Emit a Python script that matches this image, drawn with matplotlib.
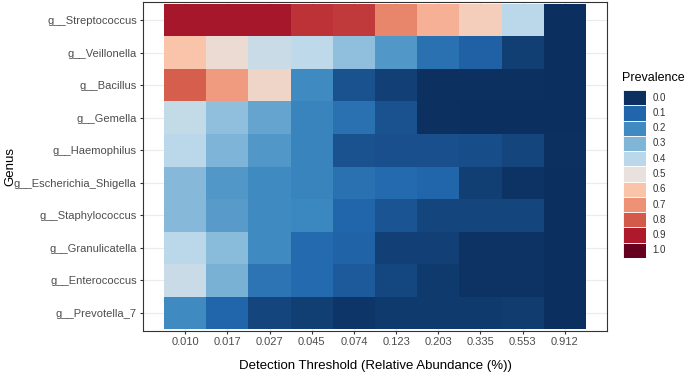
import numpy as np
import matplotlib
matplotlib.use("Agg")
import matplotlib.pyplot as plt
from matplotlib.colors import LinearSegmentedColormap

plt.rcParams['font.family'] = ['Liberation Sans', 'DejaVu Sans']

genera = ["g__Streptococcus", "g__Veillonella", "g__Bacillus", "g__Gemella",
          "g__Haemophilus", "g__Escherichia_Shigella", "g__Staphylococcus",
          "g__Granulicatella", "g__Enterococcus", "g__Prevotella_7"]
thresholds = ["0.010", "0.017", "0.027", "0.045", "0.074",
              "0.123", "0.203", "0.335", "0.553", "0.912"]

# prevalence per genus (rows) and detection threshold (columns)
prevalence = np.array([
    [0.91, 0.91, 0.91, 0.86, 0.85, 0.72, 0.64, 0.57, 0.40, 0.00],
    [0.60, 0.52, 0.43, 0.41, 0.33, 0.23, 0.13, 0.09, 0.03, 0.00],
    [0.79, 0.68, 0.54, 0.20, 0.065, 0.035, 0.005, 0.005, 0.005, 0.00],
    [0.42, 0.33, 0.26, 0.18, 0.13, 0.065, 0.005, 0.00, 0.00, 0.00],
    [0.40, 0.30, 0.23, 0.18, 0.065, 0.06, 0.06, 0.055, 0.04, 0.005],
    [0.31, 0.23, 0.20, 0.18, 0.13, 0.11, 0.10, 0.03, 0.01, 0.00],
    [0.31, 0.24, 0.20, 0.19, 0.10, 0.07, 0.04, 0.04, 0.04, 0.00],
    [0.40, 0.32, 0.20, 0.11, 0.095, 0.035, 0.035, 0.01, 0.01, 0.00],
    [0.43, 0.29, 0.14, 0.11, 0.08, 0.045, 0.02, 0.01, 0.01, 0.00],
    [0.20, 0.10, 0.04, 0.03, 0.015, 0.02, 0.02, 0.02, 0.025, 0.00],
])

legend_values = ["0.0", "0.1", "0.2", "0.3", "0.4", "0.5",
                 "0.6", "0.7", "0.8", "0.9", "1.0"]
legend_colors = ["#0B2F5E", "#2166AC", "#3F8BC1", "#7FB5D7", "#BAD8EA", "#E8E1DD",
                 "#FAC4AB", "#EE9275", "#D35A4A", "#AE1A2C", "#67001F"]

cmap = LinearSegmentedColormap.from_list("prev", legend_colors)

fig = plt.figure(figsize=(6.85, 3.74), dpi=100)
ax = fig.add_axes([143 / 685, 1 - 331 / 374, 464 / 685, 329 / 374])

nr, nc = prevalence.shape
xe = np.arange(nc + 1) - 0.5
ye = np.arange(nr + 1) - 0.5
ax.pcolormesh(xe, ye, prevalence, cmap=cmap, vmin=0, vmax=1, zorder=2)

ax.set_xlim(-1.0, nc)
ax.set_ylim(nr - 0.5 + 0.06, -0.56)
ax.set_xticks(np.arange(nc))
ax.set_xticklabels(thresholds)
ax.set_yticks(np.arange(nr))
ax.set_yticklabels(genera)
ax.grid(True, color="#EBEBEB", lw=0.8, zorder=0)
ax.set_axisbelow(True)
ax.tick_params(colors="#333333", labelcolor="#4D4D4D", labelsize=8,
               length=2.5, width=0.8, pad=2)
for s in ax.spines.values():
    s.set_color("#333333")
    s.set_linewidth(0.8)

ax.set_xlabel("Detection Threshold (Relative Abundance (%))", fontsize=9.5, labelpad=9)
ax.set_ylabel("Genus", fontsize=9.5)
ax.yaxis.set_label_coords(-0.272, 0.5)

# legend drawn as a column of keys
lax = fig.add_axes([623 / 685, 1 - 258 / 374, 23 / 685, 168 / 374])
n = len(legend_values)
lax.bar(np.zeros(n), np.ones(n), bottom=np.arange(n), width=1.0,
        color=legend_colors, edgecolor="white", linewidth=0.6)
lax.set_xlim(-0.5, 0.5)
lax.set_ylim(n, 0)
lax.axis("off")
for i, lab in enumerate(legend_values):
    lax.text(0.78, i + 0.5, lab, fontsize=7, color="#333333",
             va="center", ha="left", clip_on=False)
fig.text(622 / 685, 1 - 78 / 374, "Prevalence", fontsize=9, va="center", ha="left")

fig.savefig("out.png", dpi=100)
